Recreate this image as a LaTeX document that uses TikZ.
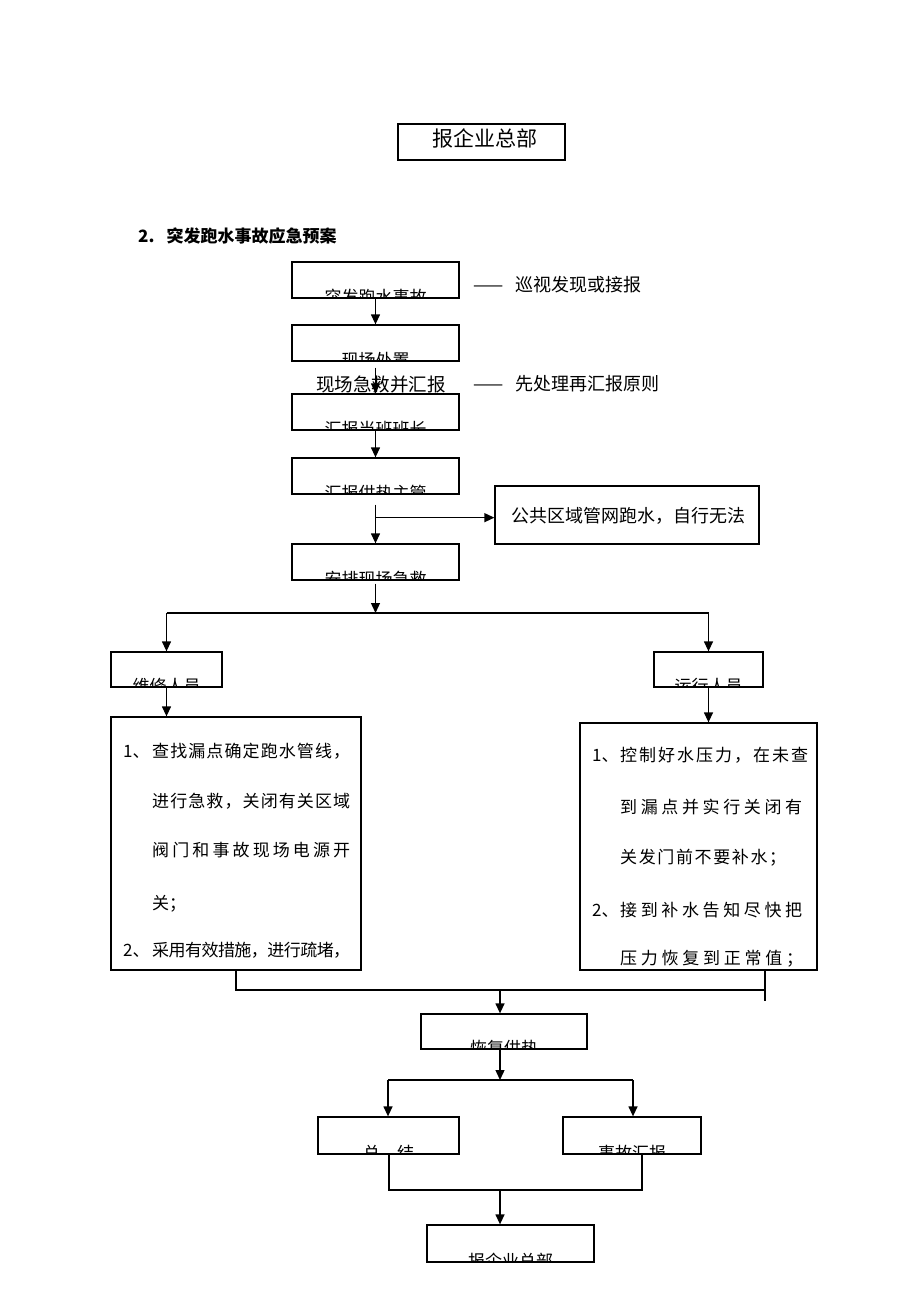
\documentclass[tikz,border=0pt]{standalone}
\usepackage{fontspec}
\setmainfont{Noto Sans CJK SC}
\usetikzlibrary{arrows.meta,calc}
\def\jl#1{#1\jlnext}
\def\jlnext#1{\ifx\relax#1\else\hss#1\expandafter\jlnext\fi}
\newcommand\jline[2]{\makebox[#1][s]{\jl #2\relax}}
\tikzset{
  box/.style={draw, line width=1.3pt, inner sep=0pt},
  cut/.style={anchor=base, inner sep=0pt, font=\fontsize{17pt}{17pt}\selectfont},
  lbl/.style={anchor=base west, inner sep=0pt, font=\fontsize{17pt}{17pt}\selectfont},
  conn/.style={line width=1.3pt},
  arr/.style={line width=1.3pt, -{Triangle[length=10pt,width=9pt]}},
}
\newcommand\cliptext[2]{\begin{scope}\clip (#1.south west) rectangle (#1.north east);
  \node[cut] at ($(#1.south)+(0,4.5)$) {#2};\end{scope}}
\begin{document}
\begin{tikzpicture}[x=1pt,y=-1pt]
\useasboundingbox (0,0) rectangle (920,1302);
% top box
\node[box, minimum width=167pt, minimum height=36pt] (b0) at (481.5,142) {};
\node[inner sep=0pt, font=\fontsize{21pt}{21pt}\selectfont] (t0) at (485,138) {报企业总部};
% heading
\node[anchor=west, inner sep=0pt, font=\fontsize{17pt}{17pt}\selectfont\bfseries] (hd) at (138,236) {2.\hspace{12pt}突发跑水事故应急预案};
% main column boxes
\node[box, minimum width=167pt, minimum height=36pt] (b1) at (375.5,280) {};
\node[box, minimum width=167pt, minimum height=36pt] (b2) at (375.5,343) {};
\node[box, minimum width=167pt, minimum height=36pt] (b3) at (375.5,412) {};
\node[box, minimum width=167pt, minimum height=36pt] (b4) at (375.5,476) {};
\node[box, minimum width=167pt, minimum height=36pt] (b5) at (375.5,562) {};
\node[box, minimum width=264pt, minimum height=58pt] (bp) at (627,515) {};
\node[inner sep=0pt, font=\fontsize{18pt}{18pt}\selectfont] (tp) at (628,516) {公共区域管网跑水，自行无法};
\cliptext{b1}{突发跑水事故}
\cliptext{b2}{现场处置}
\cliptext{b3}{汇报当班班长}
\cliptext{b4}{汇报供热主管}
\cliptext{b5}{安排现场急救}
% side labels
\node[anchor=west, inner sep=0pt, font=\fontsize{18pt}{18pt}\selectfont] (s1) at (473,285) {——\hspace{12pt}巡视发现或接报};
\node[anchor=west, inner sep=0pt, font=\fontsize{18pt}{18pt}\selectfont] (s2) at (473,384) {——\hspace{12pt}先处理再汇报原则};
\node[inner sep=0pt, font=\fontsize{18.5pt}{18.5pt}\selectfont] (s3) at (381,384) {现场急救并汇报};
% connectors main column
\draw[arr] (b1.south) -- (b2.north);
\draw[arr] ($(b2.south)+(0,6)$) -- (b3.north);
\draw[arr] (b3.south) -- (b4.north);
\draw[arr] ($(b4.south)+(0,10)$) -- (b5.north);
\coordinate (br) at ($(b4.south)+(0,23)$);
\draw[arr] (br) -- (br -| bp.west);
\coordinate (sp) at (375.5,613);
\draw[arr] ($(b5.south)+(0,3)$) -- (sp);
% branch boxes
\node[box, minimum width=111pt, minimum height=35pt] (bL) at (166.5,669.5) {};
\node[box, minimum width=109pt, minimum height=35pt] (bR) at (708.5,669.5) {};
\cliptext{bL}{维修人员}
\cliptext{bR}{运行人员}
\coordinate (sL) at (bL.north |- sp);
\coordinate (sR) at (bR.north |- sp);
\draw[conn] (sL) -- (sR);
\draw[arr] (sL) -- (bL.north);
\draw[arr] (sR) -- (bR.north);
% big boxes
\node[box, minimum width=250pt, minimum height=253pt] (gL) at (236,843.5) {};
\node[box, minimum width=237pt, minimum height=247pt] (gR) at (698.5,846.5) {};
\draw[arr] (bL.south) -- (bL.south |- gL.north);
\draw[arr] (bR.south) -- (bR.south |- gR.north);
% left big box text
\node[lbl] (l1a) at (123,757) {1、};
\node[lbl] (l1) at (152,757) {\jline{198pt}{查找漏点确定跑水管线，}};
\node[lbl] (l2) at (152,807) {\jline{198pt}{进行急救，关闭有关区域}};
\node[lbl] (l3) at (152,856) {\jline{198pt}{阀门和事故现场电源开}};
\node[lbl] (l4) at (152,909) {关；};
\node[lbl] (l5a) at (123,956) {2、};
\node[lbl] (l5) at (152,956) {\jline{198pt}{采用有效措施，进行疏堵，}};
% right big box text
\node[lbl] (r1a) at (592,761) {1、};
\node[lbl] (r1) at (620,761) {\jline{188pt}{控制好水压力，在未查}};
\node[lbl] (r2) at (620,813) {\jline{182pt}{到漏点并实行关闭有}};
\node[lbl] (r3) at (620,863) {\jline{166pt}{关发门前不要补水；}};
\node[lbl] (r4a) at (592,916) {2、};
\node[lbl] (r4) at (620,916) {\jline{182pt}{接到补水告知尽快把}};
\node[lbl] (r5) at (620,964) {\jline{183pt}{压力恢复到正常值；}};
% merge
\coordinate (mL) at (236,990);
\coordinate (mR) at (765,990);
\coordinate (gRj) at (765,970);
\coordinate (m1) at (500,990);
\draw[conn] (gL.south) -- (mL) -- (mR);
\draw[conn] (gRj) -- ($(gRj)+(0,31)$);
\node[box, minimum width=166pt, minimum height=35pt] (b6) at (504,1031.5) {};
\cliptext{b6}{恢复供热}
\draw[arr] (m1) -- (m1 |- b6.north);
\coordinate (m2) at (500,1080);
\draw[arr] (m1 |- b6.south) -- (m2);
\node[box, minimum width=141pt, minimum height=37pt] (b7) at (388.5,1135.5) {};
\node[box, minimum width=138pt, minimum height=37pt] (b8) at (632,1135.5) {};
\cliptext{b7}{总\hspace{17pt}结}
\cliptext{b8}{事故汇报}
\coordinate (m2L) at (388,1080);
\coordinate (m2R) at (633,1080);
\draw[conn] (m2L) -- (m2R);
\draw[arr] (m2L) -- (m2L |- b7.north);
\draw[arr] (m2R) -- (m2R |- b8.north);
\coordinate (m3L) at (389,1190);
\coordinate (m3R) at (642,1190);
\coordinate (m3) at (500,1190);
\draw[conn] (m3L |- b7.south) -- (m3L) -- (m3R) -- (m3R |- b8.south);
\node[box, minimum width=167pt, minimum height=37pt] (b9) at (510.5,1243.5) {};
\cliptext{b9}{报企业总部}
\draw[arr] (m3) -- (m3 |- b9.north);
\end{tikzpicture}
\end{document}
